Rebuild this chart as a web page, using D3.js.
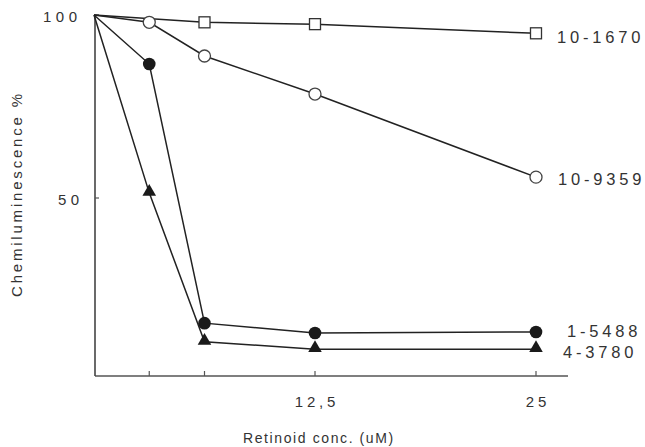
<!DOCTYPE html>
<html>
<head>
<meta charset="utf-8">
<script src="https://cdn.jsdelivr.net/npm/d3@7"></script>
<style>
  body { margin: 0; background: #fff; }
  svg text { font-family: "Liberation Sans", Arial, sans-serif; fill: #333; }
</style>
</head>
<body>
<div id="chart"></div>
<script>
// concentrations (uM)
var conc = [0, 3.125, 6.25, 12.5, 25];
var xTicks = [3.125, 6.25, 12.5, 25];
var xTickLabels = ["", "", "12,5", "25"];
var yTicks = [50, 100];

// chemiluminescence %
var s1670 = [100, null, 98, 97.5, 95];
var s9359 = [100, 98, 88.8, 78.4, 55.7];
var s5488 = [100, 86.6, 15.8, 13.1, 13.4];
var s3780 = [100, 51.4, 10.7, 8.7, 8.7];

var seriesNames = ["10-1670", "10-9359", "1-5488", "4-3780"];
var seriesVals = [s1670, s9359, s5488, s3780];
var markers = ["square", "open", "filled", "triangle"];

var width = 645, height = 447;
var svg = d3.select("#chart").append("svg")
    .attr("width", width)
    .attr("height", height);

var x = d3.scaleLinear().domain([0, 25]).range([94, 536]);
var y = d3.scaleLinear().domain([0, 100]).range([381, 15]);

var axisY = 376;

// x axis line
svg.append("line")
    .attr("x1", 95).attr("x2", 568)
    .attr("y1", axisY).attr("y2", axisY)
    .attr("stroke", "#555").attr("stroke-width", 1.6);

// x ticks (pointing up)
svg.selectAll(".xtick")
    .data(xTicks)
    .enter().append("line")
    .attr("x1", d => x(d)).attr("x2", d => x(d))
    .attr("y1", axisY).attr("y2", axisY - 5)
    .attr("stroke", "#555").attr("stroke-width", 1.2);

svg.selectAll(".xlab")
    .data(xTicks)
    .enter().append("text")
    .attr("x", d => x(d) + 2)
    .attr("y", 407)
    .attr("text-anchor", "middle")
    .attr("font-size", 15)
    .attr("letter-spacing", 3.8)
    .text((d, i) => xTickLabels[i]);

// y axis line
svg.append("line")
    .attr("x1", 95).attr("x2", 95)
    .attr("y1", 15).attr("y2", axisY)
    .attr("stroke", "#444").attr("stroke-width", 1.6);

svg.selectAll(".ytick")
    .data(yTicks)
    .enter().append("line")
    .attr("x1", 95).attr("x2", 99)
    .attr("y1", d => y(d)).attr("y2", d => y(d))
    .attr("stroke", "#555").attr("stroke-width", 1.2);

svg.selectAll(".ylab")
    .data(yTicks)
    .enter().append("text")
    .attr("x", d => d === 100 ? 43 : 58)
    .attr("y", d => y(d) + 7)
    .attr("font-size", 15)
    .attr("letter-spacing", 4.5)
    .text(d => d);

// axis titles
svg.append("text")
    .attr("x", 243).attr("y", 443)
    .attr("font-size", 14)
    .attr("letter-spacing", 1.6)
    .text("Retinoid conc. (uM)");

svg.append("text")
    .attr("transform", "translate(22,297) rotate(-90)")
    .attr("font-size", 15)
    .attr("letter-spacing", 2.8)
    .text("Chemiluminescence %");

var line = d3.line()
    .defined(d => d.v != null)
    .x(d => x(d.c))
    .y(d => y(d.v));

seriesVals.forEach(function (vals, k) {
    var pts = conc.map((c, i) => ({ c: c, v: vals[i] }));
    svg.append("path")
        .datum(pts.filter(d => d.v != null))
        .attr("fill", "none")
        .attr("stroke", "#222")
        .attr("stroke-width", 1.5)
        .attr("d", line);
});

// markers (skip concentration 0)
seriesVals.forEach(function (vals, k) {
    var pts = conc.map((c, i) => ({ c: c, v: vals[i] }))
        .filter(d => d.v != null && d.c > 0);
    var g = svg.append("g");
    var m = markers[k];
    if (m === "square") {
        g.selectAll("rect").data(pts).enter().append("rect")
            .attr("x", d => x(d.c) - 5.5).attr("y", d => y(d.v) - 5.5)
            .attr("width", 11).attr("height", 11)
            .attr("fill", "#fff").attr("stroke", "#333").attr("stroke-width", 1.3);
    } else if (m === "open") {
        g.selectAll("circle").data(pts).enter().append("circle")
            .attr("cx", d => x(d.c)).attr("cy", d => y(d.v)).attr("r", 6)
            .attr("fill", "#fff").attr("stroke", "#444").attr("stroke-width", 1.3);
    } else if (m === "filled") {
        g.selectAll("circle").data(pts).enter().append("circle")
            .attr("cx", d => x(d.c)).attr("cy", d => y(d.v)).attr("r", 6.3)
            .attr("fill", "#1a1a1a");
    } else {
        g.selectAll("path").data(pts).enter().append("path")
            .attr("d", d3.symbol().type(d3.symbolTriangle).size(80))
            .attr("transform", d => "translate(" + x(d.c) + "," + (y(d.v) - 1) + ")")
            .attr("fill", "#1a1a1a");
    }
});

// series labels at the right end
var labelPos = [
    { dx: 557, dy: 10 },
    { dx: 558, dy: 8 },
    { dx: 567, dy: 5 },
    { dx: 563, dy: 9 }
];
seriesNames.forEach(function (name, k) {
    var vals = seriesVals[k];
    svg.append("text")
        .attr("x", labelPos[k].dx)
        .attr("y", y(vals[vals.length - 1]) + labelPos[k].dy)
        .attr("font-size", 16.5)
        .attr("letter-spacing", 3.8)
        .text(name);
});
</script>
</body>
</html>
